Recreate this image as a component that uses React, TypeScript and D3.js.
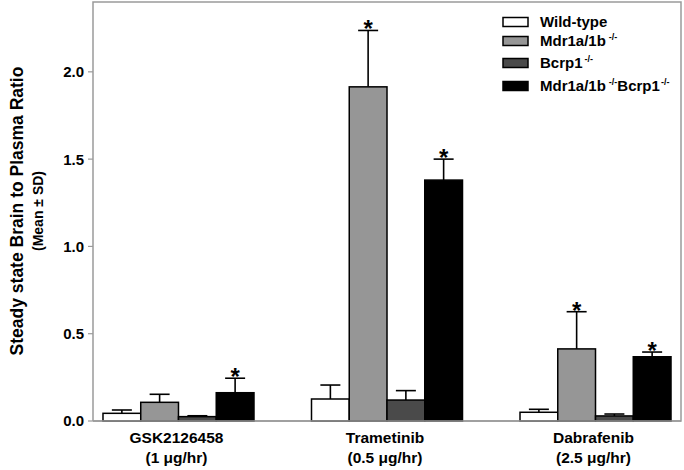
import React from "react";
import * as d3 from "d3";

const categories = ["GSK2126458", "Trametinib", "Dabrafenib"];
const doses = ["(1 \u03bcg/hr)", "(0.5 \u03bcg/hr)", "(2.5 \u03bcg/hr)"];
const seriesNames = ["Wild-type", "Mdr1a/1b", "Bcrp1", "Mdr1a/1b Bcrp1"];
const wildType = [0.044, 0.126, 0.05];
const wildTypeSD = [0.019, 0.08, 0.017];
const mdr = [0.107, 1.914, 0.413];
const mdrSD = [0.046, 0.323, 0.213];
const bcrp = [0.025, 0.12, 0.029];
const bcrpSD = [0.005, 0.054, 0.011];
const tko = [0.162, 1.38, 0.368];
const tkoSD = [0.083, 0.12, 0.027];
const mdrSig = [false, true, true];
const tkoSig = [true, true, true];
const bcrpSig = [false, false, false];
const wtSig = [false, false, false];
const yTicks = [0, 0.5, 1.0, 1.5, 2.0];
const yLabel = "Steady state Brain to Plasma Ratio";
const yLabel2 = "(Mean \u00b1 SD)";

const colors = ["#ffffff", "#969696", "#4a4a4a", "#000000"];
const FONT = "'Liberation Sans', Arial, sans-serif";

export default function App() {
  const W = 684, H = 470;
  const left = 93, right = 681, top = 2, bottom = 421;
  const y = d3.scaleLinear().domain([0, 2.4]).range([bottom, top]);
  const x = d3.scalePoint<string>().domain(categories).range([left, right]).padding(0.41);
  const sub = d3.scaleBand<number>().domain([0, 1, 2, 3]).range([-75.5, 75.5]).padding(0);
  const means = [wildType, mdr, bcrp, tko];
  const sds = [wildTypeSD, mdrSD, bcrpSD, tkoSD];
  const sigs = [wtSig, mdrSig, bcrpSig, tkoSig];
  const bw = sub.bandwidth();

  const legendY = [22, 41, 63, 86];

  return (
    <svg width={W} height={H} style={{ position: "absolute", left: 0, top: 0, background: "#fff" }} fontFamily={FONT}>
      <rect x={0} y={0} width={W} height={H} fill="#fff" />
      <path d={`M${left},${bottom} V${top} H${right} V${bottom} H${left}`} fill="none" stroke="#9a9a9a" strokeWidth={1.5} />
      {yTicks.map((t) => (
        <g key={t}>
          <line x1={left - 5} x2={left} y1={y(t)} y2={y(t)} stroke="#9a9a9a" strokeWidth={1.2} />
          <text x={left - 9} y={y(t)} dy="0.36em" textAnchor="end" fontWeight="bold" fontSize={15}>
            {t.toFixed(1)}
          </text>
        </g>
      ))}
      {categories.map((c, ci) => (
        <g key={c}>
          {means.map((m, si) => {
            const bx = (x(c) as number) + (sub(si) as number);
            const cx = bx + bw / 2;
            const yt = y(m[ci]);
            const yc = y(m[ci] + sds[si][ci]);
            return (
              <g key={si}>
                <line x1={cx} x2={cx} y1={yt} y2={yc} stroke="#000" strokeWidth={1.6} />
                <line x1={cx - 10} x2={cx + 10} y1={yc} y2={yc} stroke="#000" strokeWidth={1.6} />
                <rect x={bx} y={yt} width={bw} height={bottom - yt} fill={colors[si]} stroke="#000" strokeWidth={1.5} />
                {sigs[si][ci] && (
                  <text x={cx} y={yc + 7} textAnchor="middle" fontSize={24} fontWeight="bold">*</text>
                )}
              </g>
            );
          })}
          <text x={(x(c) as number) - 2} y={443} textAnchor="middle" fontWeight="bold" fontSize={15.5}>{c}</text>
          <text x={(x(c) as number) - 2} y={463} textAnchor="middle" fontWeight="bold" fontSize={15.5}>{doses[ci]}</text>
        </g>
      ))}
      <line x1={left} x2={right} y1={bottom} y2={bottom} stroke="#9a9a9a" strokeWidth={1.5} />
      <g transform={`translate(23,211) rotate(-90)`}>
        <text textAnchor="middle" fontWeight="bold" fontSize={17.5}>{yLabel}</text>
        <text y={20} textAnchor="middle" fontWeight="bold" fontSize={14}>{yLabel2}</text>
      </g>
      {seriesNames.map((s, i) => (
        <g key={s}>
          <rect x={503} y={legendY[i] - 4.5} width={25} height={9} fill={colors[i]} stroke="#000" strokeWidth={1.5} />
          <text x={540} y={legendY[i] + 5} fontWeight="bold" fontSize={15}>
            {i === 0 && "Wild-type"}
            {i === 1 && (<>Mdr1a/1b<tspan dx={3} dy={-6} fontSize={9}>-/-</tspan></>)}
            {i === 2 && (<>Bcrp1<tspan dx={2} dy={-6} fontSize={9}>-/-</tspan></>)}
            {i === 3 && (<>Mdr1a/1b<tspan dx={3} dy={-6} fontSize={9}>-/-</tspan><tspan dy={6}>Bcrp1</tspan><tspan dx={1} dy={-6} fontSize={9}>-/-</tspan></>)}
          </text>
        </g>
      ))}
    </svg>
  );
}
